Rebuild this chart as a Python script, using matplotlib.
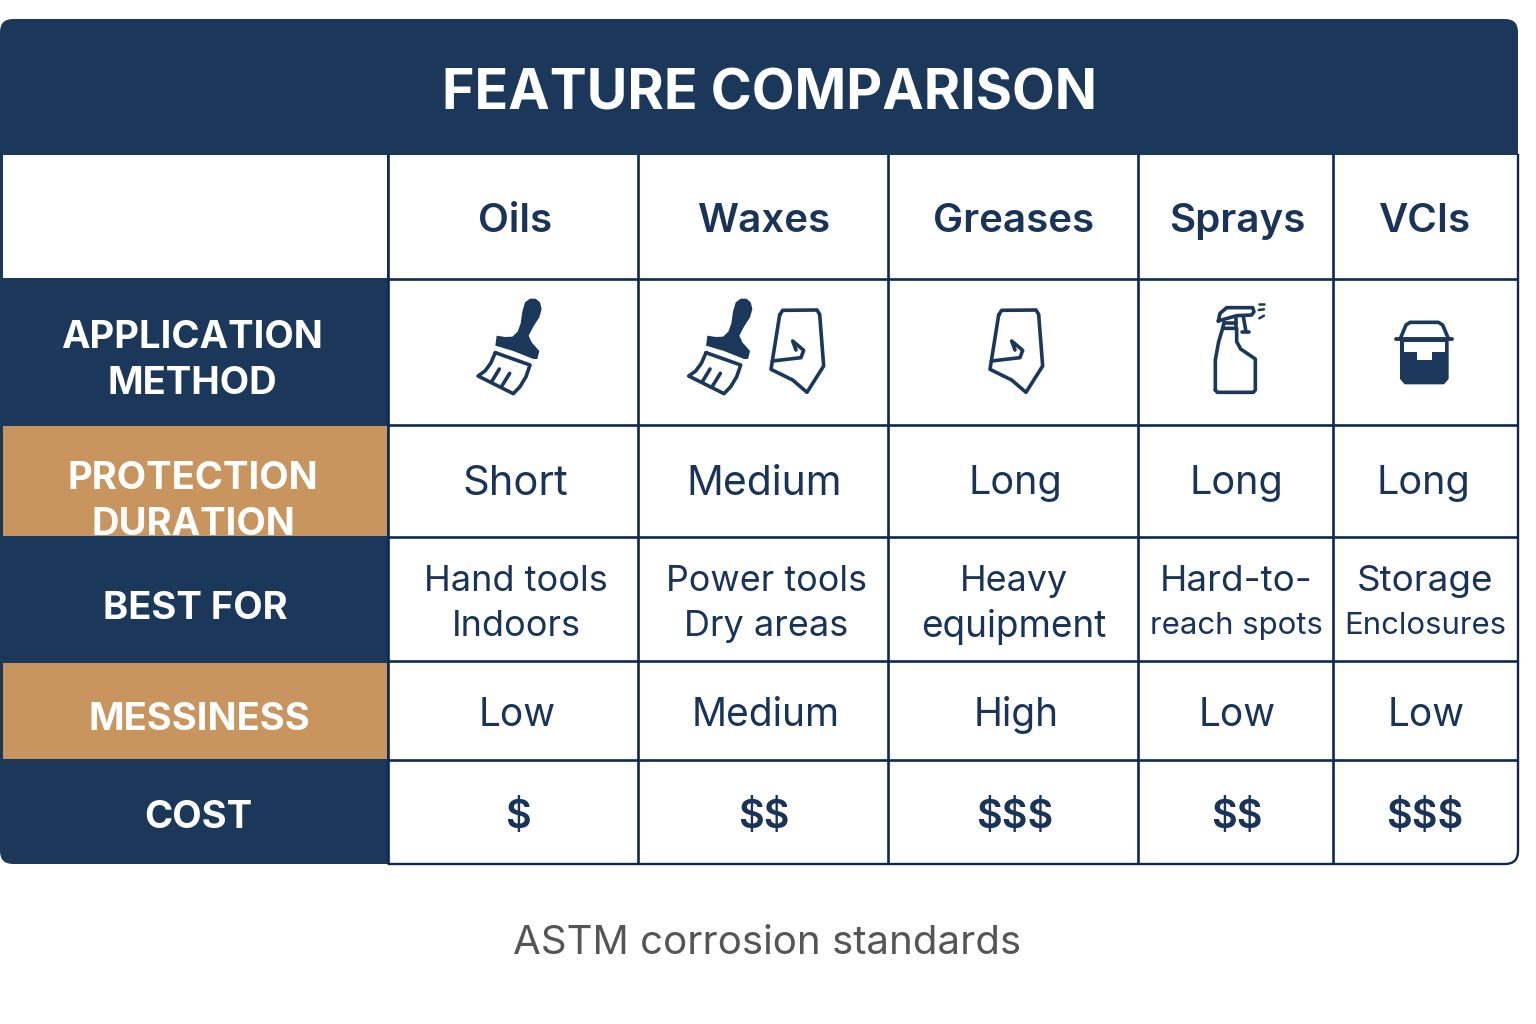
import matplotlib
matplotlib.use('Agg')
import matplotlib.pyplot as plt
from matplotlib.patches import FancyBboxPatch, Rectangle, Polygon

plt.rcParams['font.family'] = ['Inter', 'DejaVu Sans']

title = 'FEATURE COMPARISON'
caption = 'ASTM corrosion standards'
products = ['Oils', 'Waxes', 'Greases', 'Sprays', 'VCIs']
methods = [['brush'], ['brush', 'pouch'], ['pouch'], ['spray'], ['bucket']]
duration = ['Short', 'Medium', 'Long', 'Long', 'Long']
best_top = ['Hand tools', 'Power tools', 'Heavy', 'Hard-to-', 'Storage']
best_bottom = ['Indoors', 'Dry areas', 'equipment', 'reach spots', 'Enclosures']
messiness = ['Low', 'Medium', 'High', 'Low', 'Low']
cost = ['$', '$$', '$$$', '$$', '$$$']
row_labels = ['APPLICATION\nMETHOD', 'PROTECTION\nDURATION', 'BEST FOR', 'MESSINESS', 'COST']

NAVY = '#1b385b'
LINE = '#0f2a4e'
INK = '#1a3358'
TAN = '#c8955f'

# grid lines in picture pixels
col_x = [388, 638, 888, 1138, 1333, 1518]
row_y = [279, 425, 537, 661, 760, 864]

fig = plt.figure(figsize=(15.36, 10.24), dpi=100)
ax = fig.add_axes([0, 0, 1, 1])
ax.set_xlim(0, 1536)
ax.set_ylim(1024, 0)
ax.axis('off')

# rounded outer frame, everything else gets clipped to it
frame = FancyBboxPatch((0, 19), 1518, 845, boxstyle='round,pad=0,rounding_size=13',
                       fc='white', ec='none', zorder=1)
ax.add_patch(frame)


def block(x0, y0, x1, y1, color, z=2):
    r = Rectangle((x0, y0), x1 - x0, y1 - y0, fc=color, ec='none', zorder=z)
    ax.add_patch(r)
    r.set_clip_path(frame)
    return r


block(0, 19, 1520, 155, NAVY)
block(0, 155, 388, 865, NAVY)
block(3, 155, 387, 278, 'white', 3)
block(3, 426, 387, 536, TAN, 3)
block(3, 663, 387, 759, TAN, 3)

for x in col_x[:-1]:
    ax.plot([x, x], [154, 864], color=LINE, lw=1.9, zorder=4, solid_capstyle='butt')
for y in row_y[:-1]:
    ax.plot([388, 1518], [y, y], color=LINE, lw=1.9, zorder=4, solid_capstyle='butt')

# outline only shows below the title band
edge = FancyBboxPatch((0, 19), 1518, 845, boxstyle='round,pad=0,rounding_size=13',
                      fc='none', ec=LINE, lw=1.7, zorder=5)
ax.add_patch(edge)
edge.set_clip_path(Rectangle((388, 154), 1148, 720, transform=ax.transData))

ax.text(769, 89, title, color='white', fontsize=40, fontweight='bold',
        ha='center', va='center_baseline', zorder=6)
ax.text(767, 940, caption, color='#555555', fontsize=29, ha='center', va='center_baseline')

# left column labels
label_pos = [(192, 361), (193, 502), (195, 609), (199, 720), (198, 818)]
for text, (x, y) in zip(row_labels, label_pos):
    t = ax.text(x, y, text, color='white', fontsize=27.5, fontweight='bold', ha='center',
                va='center', linespacing=1.36, zorder=6)
    if text.startswith('PROTECTION'):
        t.set_clip_path(Rectangle((3, 426), 384, 110, transform=ax.transData))

# column centres of the text differ a little from the cell centres
head_x = [515, 764, 1014, 1237, 1424]
for x, text in zip(head_x, products):
    ax.text(x, 218, text, color=INK, fontsize=29, fontweight='semibold',
            ha='center', va='center_baseline', zorder=6)

dur_x = [515, 764, 1015, 1236, 1423]
dur_size = [30, 29.4, 28.5, 28.5, 28.5]
for x, text, fs in zip(dur_x, duration, dur_size):
    ax.text(x, 480, text, color=INK, fontsize=fs, ha='center', va='center_baseline', zorder=6)

# hand-fitted sizes, the narrow cells squeeze the second line
best_x = [516, 766, 1014, 1236, 1425]
top_size = [26, 25.8, 25.8, 26.5, 26.5]
bottom_size = [26, 26, 26.6, 22.4, 22.4]
for i in range(5):
    ax.text(best_x[i], 578, best_top[i], color=INK, fontsize=top_size[i],
            ha='center', va='center_baseline', zorder=6)
    ax.text(best_x[i], 623, best_bottom[i], color=INK, fontsize=bottom_size[i],
            ha='center', va='center_baseline', zorder=6)

mess_x = [517, 766, 1016, 1237, 1426]
for x, text in zip(mess_x, messiness):
    ax.text(x, 711, text, color=INK, fontsize=28, ha='center', va='center_baseline', zorder=6)

cost_x = [518, 764, 1015, 1237, 1425]
for x, text in zip(cost_x, cost):
    ax.text(x, 814, text, color=INK, fontsize=28.5, fontweight='semibold',
            ha='center', va='center_baseline', zorder=6, parse_math=False)


# icons, outlines traced in 3x zoom units around a pixel origin
def outline(ox, oy, pts, lw=2.6):
    xs = [ox + p[0] / 3 for p in pts]
    ys = [oy + p[1] / 3 for p in pts]
    ax.plot(xs, ys, color=NAVY, lw=lw, zorder=6, solid_joinstyle='round', solid_capstyle='round')


def solid(ox, oy, pts, color=NAVY, z=6):
    ax.add_patch(Polygon([(ox + p[0] / 3, oy + p[1] / 3) for p in pts], closed=True,
                         fc=color, ec='none', zorder=z))


def draw_brush(ox, oy):
    solid(ox, oy, [(140, 152), (165, 156), (187, 155), (203, 140), (212, 115), (217, 80),
                   (225, 52), (240, 41), (257, 41), (270, 52), (275, 72), (268, 97),
                   (250, 125), (236, 152), (245, 172), (268, 198), (262, 222), (250, 222),
                   (190, 198), (136, 182)])
    outline(ox, oy, [(136, 203), (240, 240), (228, 275), (210, 305), (190, 326),
                     (84, 273), (105, 258), (122, 235), (136, 203)])
    outline(ox, oy, [(148, 252), (125, 290)])
    outline(ox, oy, [(179, 265), (155, 304)])


def draw_pouch(ox, oy):
    outline(ox, oy, [(86, 90), (95, 76), (198, 75), (206, 88), (218, 243), (168, 322),
                     (125, 285), (60, 253), (86, 90)])
    outline(ox, oy, [(64, 228), (150, 218), (158, 196), (125, 168), (135, 195)])


def draw_spray(ox, oy):
    outline(ox, oy, [(736, 315), (736, 225), (746, 170), (758, 130), (800, 130), (800, 170),
                     (812, 192), (856, 222), (856, 315), (850, 322), (742, 322), (736, 315)])
    outline(ox, oy, [(745, 108), (750, 85), (770, 68), (848, 68), (852, 80), (845, 90),
                     (800, 92), (765, 102), (745, 108)])
    outline(ox, oy, [(762, 113), (798, 113)])
    outline(ox, oy, [(762, 113), (758, 130)])
    outline(ox, oy, [(798, 100), (798, 130)])
    outline(ox, oy, [(820, 95), (828, 140)])
    outline(ox, oy, [(816, 141), (838, 141)])
    outline(ox, oy, [(866, 58), (882, 58)], lw=1.8)
    outline(ox, oy, [(866, 75), (882, 73)], lw=1.8)
    outline(ox, oy, [(868, 100), (882, 92)], lw=1.8)


def draw_bucket(ox, oy):
    outline(ox, oy, [(1292, 158), (1308, 120), (1320, 112), (1405, 112), (1418, 120), (1434, 158)])
    solid(ox, oy, [(1290, 165), (1290, 282), (1304, 298), (1422, 298), (1436, 282), (1436, 165)])
    solid(ox, oy, [(1302, 170), (1424, 170), (1424, 202), (1386, 202), (1386, 225),
                   (1340, 225), (1340, 202), (1302, 202)], color='white', z=7)
    outline(ox, oy, [(1278, 162), (1446, 162)], lw=2.8)


# pixel origin of each icon, per column
icon_origin = [[(450, 285)], [(660.7, 285), (751, 285)], [(970, 285)], [(970, 285)], [(970, 285)]]
draw_icon = {'brush': draw_brush, 'pouch': draw_pouch, 'spray': draw_spray, 'bucket': draw_bucket}
for names, origins in zip(methods, icon_origin):
    for name, (ox, oy) in zip(names, origins):
        draw_icon[name](ox, oy)

plt.savefig('out.png', dpi=100)
